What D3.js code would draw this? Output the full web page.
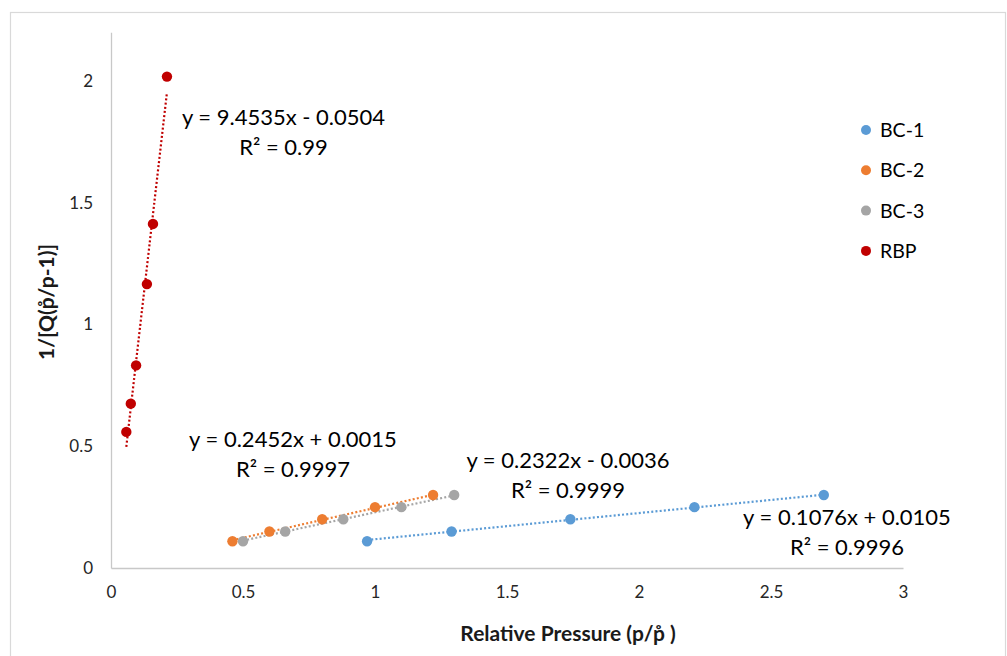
<!DOCTYPE html>
<html><head><meta charset="utf-8">
<script src="https://cdn.jsdelivr.net/npm/d3@7"></script>
<style>body{margin:0;background:#fff;} text{font-family:Lato,"Open Sans",sans-serif;}</style>
</head><body>
<svg id="chart" width="1007" height="656"></svg>
<script>
// ---- data ----
const seriesNames = ["BC-1", "BC-2", "BC-3", "RBP"];
const seriesColors = ["#5B9BD5", "#ED7D31", "#A5A5A5", "#C00000"];
const bc1X = [0.97, 1.29, 1.74, 2.21, 2.70];
const bc1Y = [0.11, 0.15, 0.20, 0.25, 0.30];
const bc2X = [0.46, 0.60, 0.80, 1.00, 1.22];
const bc2Y = [0.11, 0.15, 0.20, 0.25, 0.30];
const bc3X = [0.50, 0.66, 0.88, 1.10, 1.30];
const bc3Y = [0.11, 0.15, 0.20, 0.25, 0.30];
const rbpX = [0.058, 0.075, 0.095, 0.136, 0.159, 0.212];
const rbpY = [0.559, 0.675, 0.832, 1.166, 1.413, 2.018];
const slopes = [0.1076, 0.2452, 0.2322, 9.4535];
const intercepts = [0.0105, 0.0015, -0.0036, -0.0504];
const eqLabels = ["y = 0.1076x + 0.0105", "y = 0.2452x + 0.0015", "y = 0.2322x - 0.0036", "y = 9.4535x - 0.0504"];
const r2Labels = ["R\u00B2 = 0.9996", "R\u00B2 = 0.9997", "R\u00B2 = 0.9999", "R\u00B2 = 0.99"];
const xTicks = [0, 0.5, 1, 1.5, 2, 2.5, 3];
const yTicks = [0, 0.5, 1, 1.5, 2];
const xTitle = "Relative Pressure (p/p\u030A )";
const yTitle = "1/[Q(p\u030A/p-1)]";

// ---- layout ----
const eqPos = [[847, 525], [293, 447], [568, 468], [283.5, 125]]; // label centers (px)
const lineGap = 29.5;

const svg = d3.select("#chart");
svg.append("rect").attr("x", 10.5).attr("y", 12.5).attr("width", 995).attr("height", 700)
  .attr("fill", "#fff").attr("stroke", "#d9d9d9").attr("stroke-width", 1.2);

const x = d3.scaleLinear().domain([0, 3]).range([111, 903]);
const y = d3.scaleLinear().domain([0, 2.2]).range([568, 32.3]);

// axes
const gx = svg.append("g").attr("transform", "translate(0,568)")
  .call(d3.axisBottom(x).tickValues(xTicks).tickSize(0).tickPadding(18).tickFormat(d3.format("")));
gx.select(".domain").attr("stroke", "#c8c8c8").attr("stroke-width", 1.3);
gx.selectAll("text").attr("font-size", 17).attr("fill", "#262626");

const gy = svg.append("g").attr("transform", "translate(111,0)")
  .call(d3.axisLeft(y).tickValues(yTicks).tickSize(0).tickPadding(18).tickFormat(d3.format("")));
gy.select(".domain").attr("stroke", "#c8c8c8").attr("stroke-width", 1.3);
gy.selectAll("text").attr("font-size", 17).attr("fill", "#262626");

// axis titles
svg.append("text").attr("x", 568).attr("y", 641).attr("text-anchor", "middle")
  .attr("font-size", 21).attr("font-weight", "bold").attr("fill", "#1a1a1a").text(xTitle);
svg.append("text").attr("transform", "translate(54,302) rotate(-90)").attr("text-anchor", "middle")
  .attr("font-size", 21).attr("font-weight", "bold").attr("fill", "#1a1a1a").text(yTitle);

const series = [
  {xs: bc1X, ys: bc1Y}, {xs: bc2X, ys: bc2Y}, {xs: bc3X, ys: bc3Y}, {xs: rbpX, ys: rbpY}
].map((s, i) => ({name: seriesNames[i], color: seriesColors[i],
  pts: s.xs.map((v, j) => [v, s.ys[j]]), slope: slopes[i], icpt: intercepts[i]}));

// trendlines (drawn first, under markers)
series.forEach(s => {
  const [x0, x1] = d3.extent(s.pts, d => d[0]);
  svg.append("line")
    .attr("x1", x(x0)).attr("y1", y(s.slope * x0 + s.icpt))
    .attr("x2", x(x1)).attr("y2", y(s.slope * x1 + s.icpt))
    .attr("stroke", s.color).attr("stroke-width", 2.2).attr("stroke-dasharray", "2,2.2");
});

// markers
series.forEach(s => {
  svg.append("g").selectAll("circle").data(s.pts).join("circle")
    .attr("cx", d => x(d[0])).attr("cy", d => y(d[1])).attr("r", 5.2).attr("fill", s.color);
});

// equation labels
series.forEach((s, i) => {
  svg.append("text").attr("x", eqPos[i][0]).attr("y", eqPos[i][1]).attr("text-anchor", "middle")
    .attr("font-size", 22).attr("fill", "#000").text(eqLabels[i]);
  svg.append("text").attr("x", eqPos[i][0]).attr("y", eqPos[i][1] + lineGap).attr("text-anchor", "middle")
    .attr("font-size", 22).attr("fill", "#000").text(r2Labels[i]);
});

// legend
const leg = svg.append("g").attr("transform", "translate(866,130)");
series.forEach((s, i) => {
  const g = leg.append("g").attr("transform", `translate(0,${i * 40.3})`);
  g.append("circle").attr("r", 5).attr("fill", s.color);
  g.append("text").attr("x", 14).attr("dy", "0.36em").attr("font-size", 19.5).attr("fill", "#000").text(s.name);
});
</script>
</body></html>
